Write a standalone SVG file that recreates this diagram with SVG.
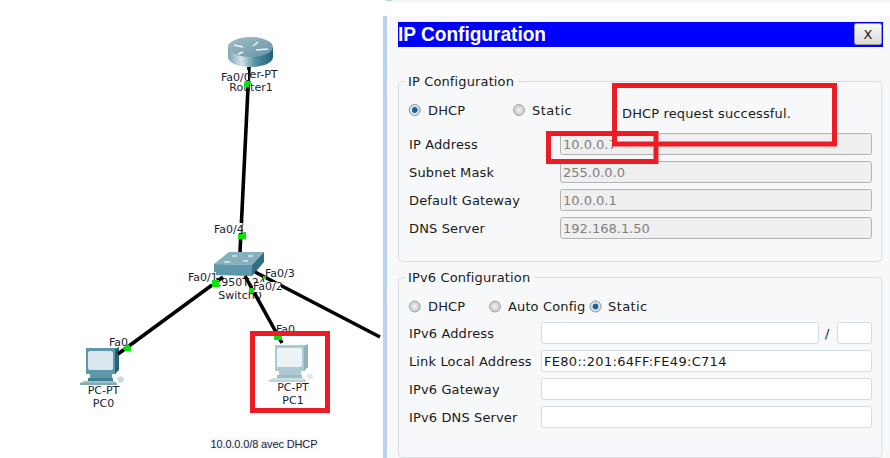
<svg xmlns="http://www.w3.org/2000/svg" width="890" height="458" viewBox="0 0 890 458">
<style>
.l{font-family:"DejaVu Sans",sans-serif;font-size:13px;fill:#1a1a1a;letter-spacing:.13px}
.v{font-family:"DejaVu Sans",sans-serif;font-size:13px;fill:#808080}
.n{font-family:"DejaVu Sans",sans-serif;font-size:11px;fill:#1a2030}
.nm{text-anchor:middle}
.link{stroke:#000;stroke-width:3.6;fill:none}
.g{fill:#0be20b}
.ro{fill:#efefef;stroke:#b3b3b3;stroke-width:1}
.rw{fill:#fff;stroke:#d3dbe3;stroke-width:1}
.box{fill:#f7f8f9;stroke:#d3dde8;stroke-width:1}
.red{fill:none;stroke:#ed1c24;stroke-width:5}
.off{fill:url(#rOff);stroke:#a8a8a8}
.on{fill:url(#rOn);stroke:#8a9aa8}
</style>
<defs>
<linearGradient id="rb" x1="0" x2="1" y1="0" y2="0"><stop offset="0" stop-color="#7fa5b2"/><stop offset=".3" stop-color="#d5e4e8"/><stop offset=".6" stop-color="#5590a2"/><stop offset="1" stop-color="#1f6478"/></linearGradient>
<linearGradient id="rt" x1="0" x2="1" y1="0" y2="1"><stop offset="0" stop-color="#a3bec8"/><stop offset="1" stop-color="#6595a5"/></linearGradient>
<linearGradient id="btn" x1="0" x2="0" y1="0" y2="1"><stop offset="0" stop-color="#fafafa"/><stop offset="1" stop-color="#d8d8d8"/></linearGradient>
<radialGradient id="rOff"><stop offset="0" stop-color="#f4f4f4"/><stop offset="1" stop-color="#c4c4c4"/></radialGradient>
<radialGradient id="rOn"><stop offset="0" stop-color="#0a5f9a"/><stop offset=".5" stop-color="#2a6d9a"/><stop offset=".6" stop-color="#f0f4f7"/><stop offset="1" stop-color="#b8c4cc"/></radialGradient>
<g id="pc">
<rect x="6" y="1" width="30" height="26" fill="#5d97aa"/>
<rect x="8" y="4" width="25" height="19" rx="2" fill="#dbe7ee"/>
<path d="M35 2 L39 0 V23 L35 27 Z" fill="#1f6478"/>
<path d="M10 27 H32 V32 H10 Z" fill="#5d97aa"/>
<path d="M8 31 H33 V34 H8 Z" fill="#3d7f93"/>
<path d="M4 34 H34 L37 36 H0 Z" fill="#9fc0cb"/>
<path d="M0 36 H37 V38 H0 Z" fill="#7daab8"/>
<path d="M37 31 Q43 27 44 32 Q45 35 39 36 Z" fill="#c8d9de"/>
</g>
</defs>
<rect width="890" height="458" fill="#fff"/>
<rect x="387" y="0" width="503" height="2" fill="#f4f4f4"/>
<rect x="386" y="0" width="6" height="1" fill="#b9d1ea"/>
<rect x="383" y="16" width="4" height="442" fill="#b9d1ea"/>
<rect x="387" y="16" width="503" height="442" fill="#f8f8f8"/>
<g id="router1">
<path d="M228 47 V57 C228 63 238 67 250.500 67 C263 67 273 63 273 57 V47 Z" fill="url(#rb)"/>
<ellipse cx="250.500" cy="47" rx="22.500" ry="10" fill="url(#rt)"/>
<path d="M234 45 L243 47 M243 52 L238 54 M258 42 L253 46 M256 50 L268 49" stroke="#eef5f7" stroke-width="1.500" fill="none"/>
<text class="n nm" x="251" y="78">Router-PT</text>
<text class="n nm" x="251" y="91">Router1</text>
</g>
<g id="switch0">
<path d="M214 264 L229 252 H264 L252 265 Z" fill="#86b0bd"/>
<path d="M214 264 L252 265 V276 L214 275 Z" fill="#5c97aa"/>
<path d="M252 265 L264 252 V262 L252 276 Z" fill="#2f6e83"/>
<path d="M224 262 h6 M243 261 h5 M232 256 h5 M248 256 h5" stroke="#dce9ed" stroke-width="1.500"/>
<text class="n nm" x="240" y="286">2950T-24</text>
<text class="n nm" x="240" y="299">Switch0</text>
</g>
<g id="pc0">
<use href="#pc" x="80" y="347"/>
<text class="n nm" x="103.500" y="394">PC-PT</text>
<text class="n nm" x="103.500" y="407">PC0</text>
</g>
<g id="pc1">
<use href="#pc" x="269" y="344" opacity=".5"/>
<text class="n nm" x="293" y="391">PC-PT</text>
<text class="n nm" x="293" y="404">PC1</text>
</g>
<g id="connectors">
<path class="link" d="M249 67 L240 252"/>
<path class="link" d="M223 277 L118 354"/>
<path class="link" d="M245 276 L282 343"/>
<path class="link" d="M255 272 L380 337"/>
</g>
<g id="ports">
<rect x="221" y="70" width="27" height="13" fill="#fff"/>
<text class="n" x="221" y="81">Fa0/0</text>
<rect x="214" y="223" width="28.500" height="10" fill="#fff"/>
<text class="n" x="214" y="233">Fa0/4</text>
<rect x="188" y="272" width="28" height="12" fill="#fff"/>
<text class="n" x="188" y="281">Fa0/1</text>
<text class="n" x="265" y="277">Fa0/3</text>
<rect x="253" y="282" width="28" height="10" fill="#fff"/>
<text class="n" x="253" y="290">Fa0/2</text>
<text class="n" x="276" y="333">Fa0</text>
<text class="n" x="109" y="346">Fa0</text>
<path class="g" d="M245 81 h6 v3 h-2 v3 h-5 v-4 z"/>
<path class="g" d="M243 232 h3 v7 h-8 v-5 h5 z"/>
<rect class="g" x="212" y="280" width="7" height="7"/>
<path class="g" d="M124 347 l4 -3 l3 3 v4 h-6 l-2 -2 z"/>
<rect class="g" x="249" y="288" width="5" height="5"/>
<rect class="g" x="263" y="276" width="3" height="3"/>
<rect class="g" x="274" y="335" width="8" height="5" rx="1"/>
</g>
<g id="ip-config">
<rect x="398" y="22" width="485" height="25" fill="#0000ff"/>
<text x="398" y="41" font-family="Liberation Sans,sans-serif" font-size="20" font-weight="bold" fill="#fff" textLength="148" lengthAdjust="spacingAndGlyphs">IP Configuration</text>
<rect x="854.500" y="23.500" width="27" height="21" rx="2" fill="url(#btn)" stroke="#9a9a9a"/>
<text class="l nm" x="868" y="39">X</text>
<rect class="box" x="398.500" y="81.500" width="483.500" height="180" rx="4"/>
<rect x="405" y="78" width="113" height="8" fill="#f8f8f8"/>
<text class="l" x="408" y="86">IP Configuration</text>
<circle class="on" cx="414.700" cy="110" r="5.500"/>
<text class="l" x="428" y="115">DHCP</text>
<circle class="off" cx="519" cy="110" r="5.500"/>
<text class="l" x="532" y="115" style="letter-spacing:.5px">Static</text>
<text class="l" x="622" y="118">DHCP request successful.</text>
<text class="l" x="409" y="149">IP Address</text>
<text class="l" x="409" y="177">Subnet Mask</text>
<text class="l" x="409" y="205">Default Gateway</text>
<text class="l" x="409" y="233">DNS Server</text>
<rect class="ro" x="560.500" y="133.500" width="311" height="21" rx="2"/>
<rect class="ro" x="560.500" y="161.500" width="311" height="21" rx="2"/>
<rect class="ro" x="560.500" y="189.500" width="311" height="21" rx="2"/>
<rect class="ro" x="560.500" y="217.500" width="311" height="21" rx="2"/>
<text class="v" x="563" y="149">10.0.0.7</text>
<text class="v" x="563" y="177">255.0.0.0</text>
<text class="v" x="563" y="205">10.0.0.1</text>
<text class="v" x="563" y="233">192.168.1.50</text>
</g>
<g id="ipv6-config">
<rect class="box" x="398.500" y="277.500" width="483.500" height="180" rx="4"/>
<rect x="405" y="274" width="129" height="8" fill="#f8f8f8"/>
<text class="l" x="408" y="282">IPv6 Configuration</text>
<circle class="off" cx="414.700" cy="306.500" r="5.500"/>
<text class="l" x="428" y="311">DHCP</text>
<circle class="off" cx="495" cy="306.500" r="5.500"/>
<text class="l" x="508" y="311">Auto Config</text>
<circle class="on" cx="595.500" cy="306.500" r="5.500"/>
<text class="l" x="608" y="311" style="letter-spacing:.4px">Static</text>
<text class="l" x="409" y="338">IPv6 Address</text>
<text class="l" x="409" y="366">Link Local Address</text>
<text class="l" x="409" y="394">IPv6 Gateway</text>
<text class="l" x="409" y="422">IPv6 DNS Server</text>
<rect class="rw" x="541.500" y="322.500" width="277" height="21" rx="2"/>
<text class="l" x="825" y="338">/</text>
<rect class="rw" x="837.500" y="322.500" width="34" height="21" rx="2"/>
<rect class="rw" x="541.500" y="350.500" width="330" height="21" rx="2"/>
<text class="l" x="544" y="366" style="letter-spacing:.3px">FE80::201:64FF:FE49:C714</text>
<rect class="rw" x="541.500" y="378.500" width="330" height="21" rx="2"/>
<rect class="rw" x="541.500" y="406.500" width="330" height="21" rx="2"/>
</g>
<g id="note">
<rect x="210" y="438" width="108" height="13" fill="#f7f9ff"/>
<text x="210.500" y="448" font-family="Liberation Sans,sans-serif" font-size="11" fill="#1a2030" textLength="107">10.0.0.0/8 avec DHCP</text>
</g>
<g id="highlights">
<rect class="red" x="614.500" y="85.500" width="220" height="58.500"/>
<rect class="red" x="548.500" y="133.500" width="107.500" height="28"/>
<rect class="red" x="252.500" y="333.500" width="75" height="77"/>
</g>
</svg>
